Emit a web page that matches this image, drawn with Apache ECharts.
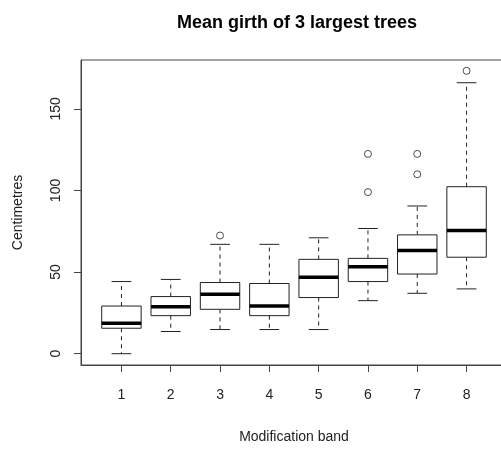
<!DOCTYPE html>
<html>
<head>
<meta charset="utf-8">
<script src="https://cdn.jsdelivr.net/npm/echarts@6/dist/echarts.min.js"></script>
<style>
  html, body { margin: 0; padding: 0; background: #fff; }
  #main { width: 501px; height: 450px; }
</style>
</head>
<body>
<div id="main"></div>
<script>
// modification bands
const bands = [1, 2, 3, 4, 5, 6, 7, 8]
// [lower whisker, Q1, median, Q3, upper whisker]
const boxStats = [
    [0, 15.6, 18.7, 29.2, 44.2],
    [13.6, 23.3, 28.8, 35, 45.5],
    [14.8, 27.2, 36.4, 43.6, 67],
    [14.8, 23.3, 29.2, 43, 67],
    [14.8, 34.4, 46.9, 57.8, 71],
    [32.5, 44.2, 53.3, 58.4, 76.7],
    [37, 48.8, 63.2, 72.8, 90.5],
    [39.7, 59.1, 75.5, 102.3, 166]
]
// outliers: [band, value]
const outliers = [
    [3, 72.4],
    [6, 99], [6, 122.4],
    [7, 109.9], [7, 122.4],
    [8, 173.3]
]
const yTicks = [0, 50, 100, 150]

const font = "Liberation Sans, Arial, sans-serif"
const lineCol = "#222"
const axisCol = "#444"

const chart = echarts.init(document.getElementById("main"), null, { renderer: "canvas" })

function renderBox(params, api) {
    const x = api.value(0)
    const lo = api.value(1), q1 = api.value(2), med = api.value(3), q3 = api.value(4), hi = api.value(5)
    const halfBox = 0.4, halfCap = 0.2
    const pL = api.coord([x - halfBox, q3]), pR = api.coord([x + halfBox, q1])
    const c = api.coord([x, med])
    const capL = api.coord([x - halfCap, hi])[0], capR = api.coord([x + halfCap, hi])[0]
    const yHi = api.coord([x, hi])[1], yLo = api.coord([x, lo])[1]
    const dash = { stroke: lineCol, lineWidth: 1, lineDash: [4, 4] }
    const solid = { stroke: lineCol, lineWidth: 1 }
    return {
        type: "group",
        children: [
            { type: "line", shape: { x1: c[0], y1: pL[1], x2: c[0], y2: yHi }, style: dash },
            { type: "line", shape: { x1: c[0], y1: pR[1], x2: c[0], y2: yLo }, style: dash },
            { type: "line", shape: { x1: capL, y1: yHi, x2: capR, y2: yHi }, style: solid },
            { type: "line", shape: { x1: capL, y1: yLo, x2: capR, y2: yLo }, style: solid },
            {
                type: "rect",
                shape: { x: pL[0], y: pL[1], width: pR[0] - pL[0], height: pR[1] - pL[1] },
                style: { fill: "#fff", stroke: lineCol, lineWidth: 1 }
            },
            { type: "line", shape: { x1: pL[0], y1: c[1], x2: pR[0], y2: c[1] }, style: { stroke: "#000", lineWidth: 3.5 } }
        ]
    }
}

const option = {
    animation: false,
    backgroundColor: "#fff",
    title: {
        text: "Mean girth of 3 largest trees",
        left: 172,
        top: 9,
        textStyle: { fontFamily: font, fontSize: 18, fontWeight: "bold", color: "#000" }
    },
    grid: {
        left: 81, width: 426, top: 60, height: 305,
        outerBoundsMode: "none",
        containLabel: false,
        show: true, borderColor: axisCol, borderWidth: 1, backgroundColor: "transparent"
    },
    xAxis: {
        type: "value",
        min: 0.18, max: 8.82,
        name: "Modification band",
        nameLocation: "middle",
        nameGap: 65,
        nameTextStyle: { fontFamily: font, fontSize: 14, color: "#222" },
        axisLine: { show: true, onZero: false, lineStyle: { color: axisCol } },
        splitLine: { show: false },
        axisTick: { show: true, length: 7, inside: false, customValues: bands, lineStyle: { color: axisCol } },
        axisLabel: { customValues: bands, margin: 23, fontFamily: font, fontSize: 14, color: "#222" }
    },
    yAxis: {
        type: "value",
        min: -6.92, max: 179.92,
        name: "Centimetres",
        nameLocation: "middle",
        nameGap: 56,
        nameRotate: 90,
        nameTextStyle: { fontFamily: font, fontSize: 14, color: "#222" },
        axisLine: { show: true, onZero: false, lineStyle: { color: axisCol } },
        splitLine: { show: false },
        axisTick: { show: true, length: 7, customValues: yTicks, lineStyle: { color: axisCol } },
        axisLabel: { customValues: yTicks, rotate: 90, margin: 18, fontFamily: font, fontSize: 14, color: "#222", align: "center", verticalAlign: "bottom" }
    },
    series: [
        {
            type: "custom",
            renderItem: renderBox,
            data: bands.map((b, i) => [b].concat(boxStats[i])),
            z: 2
        },
        {
            type: "scatter",
            data: outliers,
            symbol: "circle",
            symbolSize: 7,
            itemStyle: { color: "#fff", borderColor: lineCol, borderWidth: 1 },
            z: 3
        }
    ]
}
chart.setOption(option)
</script>
</body>
</html>
